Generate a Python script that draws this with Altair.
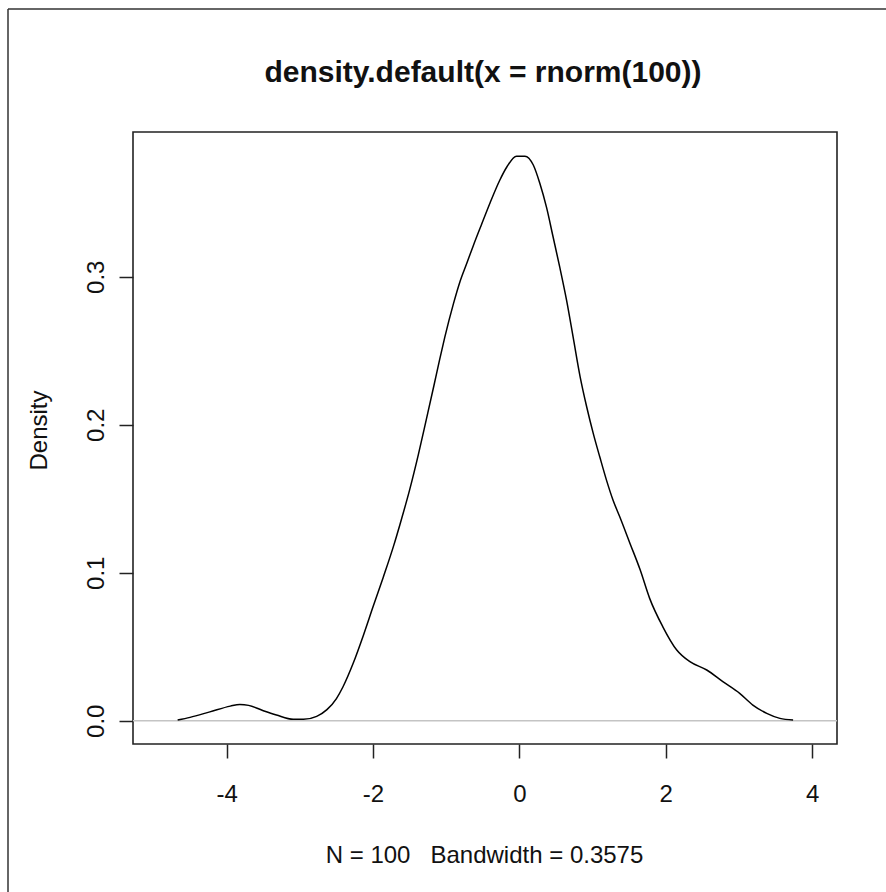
import altair as alt
import pandas as pd

# Density curve
xs = [-4.67, -4.50, -4.23, -3.95, -3.82, -3.70, -3.50, -3.32, -3.09, -2.95,
      -2.77, -2.63, -2.50, -2.41, -2.27, -2.13, -2.00, -1.86, -1.72, -1.63,
      -1.50, -1.38, -1.27, -1.17, -1.09, -1.02, -0.90, -0.81, -0.72, -0.63,
      -0.52, -0.40, -0.27, -0.17, -0.04, 0.075, 0.19, 0.28, 0.37, 0.46,
      0.55, 0.645, 0.735, 0.83, 0.92, 1.01, 1.10, 1.19, 1.28, 1.37,
      1.51, 1.65, 1.78, 1.96, 2.15, 2.33, 2.56, 2.78, 3.01, 3.19,
      3.38, 3.56, 3.74]
ys = [0.0005, 0.0023, 0.006, 0.0099, 0.011, 0.0104, 0.0068, 0.0039, 0.001, 0.001,
      0.003, 0.0075, 0.015, 0.023, 0.039, 0.058, 0.077, 0.097, 0.118, 0.133,
      0.156, 0.180, 0.204, 0.226, 0.244, 0.259, 0.282, 0.297, 0.309, 0.321,
      0.335, 0.350, 0.365, 0.3743, 0.3815, 0.3815, 0.3755, 0.363, 0.347, 0.327,
      0.3068, 0.284, 0.259, 0.2324, 0.212, 0.194, 0.178, 0.1626, 0.149, 0.138,
      0.12, 0.102, 0.0827, 0.0635, 0.0478, 0.0399, 0.0343, 0.0264, 0.0185, 0.0106,
      0.005, 0.0016, 0.0005]

x_ticks = [-4, -2, 0, 2, 4]
y_ticks = [0.0, 0.1, 0.2, 0.3]
x_domain = [-5.28, 4.34]
y_domain = [-0.0157, 0.3978]
title_text = ["density.default(x = rnorm(100))"]
x_title = "N = 100\u00a0\u00a0\u00a0Bandwidth = 0.3575"
y_title = "Density"

df = pd.DataFrame({"x": xs, "y": ys})
zero_df = pd.DataFrame({"y": [0.0]})
title_df = pd.DataFrame({"t": title_text})

FONT = "Liberation Sans"
W, H = 704, 612

xscale = alt.Scale(domain=x_domain, nice=False, zero=False)
yscale = alt.Scale(domain=y_domain, nice=False, zero=False)

xaxis = alt.Axis(values=x_ticks, title=x_title, grid=False, domain=False,
                 labelExpr="datum.value < 0 ? '-' + abs(datum.value) : '' + datum.value",
                 tickSize=14, tickWidth=1.5, tickColor="#222",
                 labelFontSize=24, labelFont=FONT, labelColor="#111", labelPadding=24,
                 titleFontSize=24, titleFont=FONT, titleFontWeight="normal", titleColor="#111",
                 titleBaseline="alphabetic", titleX=351, titleY=118, titleAnchor="middle")
yaxis = alt.Axis(values=y_ticks, format=".1f", title=y_title, grid=False, domain=False,
                 tickSize=14, tickWidth=1.5, tickColor="#222",
                 labelFontSize=24, labelFont=FONT, labelColor="#111", labelPadding=16,
                 labelAngle=270, labelAlign="center", labelBaseline="alphabetic",
                 titleFontSize=24, titleFont=FONT, titleFontWeight="normal", titleColor="#111",
                 titleAngle=270, titleBaseline="alphabetic", titleX=-87, titleY=298,
                 titleAnchor="middle", titleAlign="center")

zero = alt.Chart(zero_df).mark_rule(color="#c4c4c4", strokeWidth=1.5).encode(
    y=alt.Y("y:Q", scale=yscale, axis=yaxis)
)

line = alt.Chart(df).mark_line(color="black", strokeWidth=1.5, interpolate="monotone").encode(
    x=alt.X("x:Q", scale=xscale, axis=xaxis),
    y=alt.Y("y:Q", scale=yscale, axis=yaxis),
)

frame_left = alt.Chart(zero_df).mark_rule(color="#333", strokeWidth=1.5).encode(
    x=alt.value(-125), y=alt.value(-123), y2=alt.value(800)
)
frame_top = alt.Chart(zero_df).mark_rule(color="#333", strokeWidth=1.5).encode(
    x=alt.value(-125), x2=alt.value(900), y=alt.value(-123)
)

title = alt.Chart(title_df).mark_text(
    font=FONT, fontSize=30, fontWeight="bold", color="#111",
    align="center", baseline="alphabetic"
).encode(text="t:N", x=alt.value(350), y=alt.value(-50))

chart = alt.layer(zero, line, frame_left, frame_top, title).properties(
    width=W, height=H,
    autosize=alt.AutoSizeParams(type="none"),
    padding={"left": 133, "top": 132, "right": 49, "bottom": 148},
).configure_view(stroke="#222", strokeWidth=1.6)

chart.save("out.html", embed_options={"renderer": "svg", "actions": False})
